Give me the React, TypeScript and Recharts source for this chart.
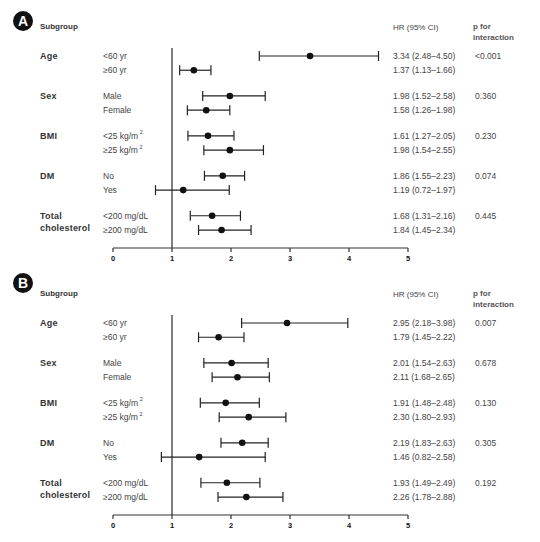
import { ScatterChart, Scatter, XAxis, YAxis, ErrorBar, ReferenceLine } from 'recharts';

const groups = ['Age', 'Sex', 'BMI', 'DM', 'Total cholesterol'];
const categories = ['<60 yr', '≥60 yr', 'Male', 'Female', '<25 kg/m²', '≥25 kg/m²', 'No', 'Yes', '<200 mg/dL', '≥200 mg/dL'];
const xTicks = [0, 1, 2, 3, 4, 5];

// panel A
const hrA = [3.34, 1.37, 1.98, 1.58, 1.61, 1.98, 1.86, 1.19, 1.68, 1.84];
const lowA = [2.48, 1.13, 1.52, 1.26, 1.27, 1.54, 1.55, 0.72, 1.31, 1.45];
const highA = [4.5, 1.66, 2.58, 1.98, 2.05, 2.55, 2.23, 1.97, 2.16, 2.34];
const pA = ['<0.001', '0.360', '0.230', '0.074', '0.445'];

// panel B
const hrB = [2.95, 1.79, 2.01, 2.11, 1.91, 2.3, 2.19, 1.46, 1.93, 2.26];
const lowB = [2.18, 1.45, 1.54, 1.68, 1.48, 1.8, 1.83, 0.82, 1.49, 1.78];
const highB = [3.98, 2.22, 2.63, 2.65, 2.48, 2.93, 2.63, 2.58, 2.49, 2.88];
const pB = ['0.007', '0.678', '0.130', '0.305', '0.192'];

const FONT = '"Liberation Sans", Arial, sans-serif';
const GROUP_STEP = 2.8;
const rowY = (i: number) => Math.floor(i / 2) * GROUP_STEP + (i % 2);

const fmt = (v: number) => v.toFixed(2);

function Category({ x, y, text }: { x: number; y: number; text: string }) {
  if (text.endsWith('²')) {
    return (
      <text x={x} y={y} dominantBaseline="central" fontSize={8.5} fill="#444" fontFamily={FONT}>
        {text.slice(0, -1)}
        <tspan dx={1.5} dy={-3.5} fontSize={5.5}>2</tspan>
      </text>
    );
  }
  return (
    <text x={x} y={y} dominantBaseline="central" fontSize={8.5} fill="#444" fontFamily={FONT}>
      {text}
    </text>
  );
}

const XTick = (props: any) => {
  const { x, y, payload } = props;
  return (
    <text x={x} y={y + 4} textAnchor="middle" dominantBaseline="central" fontSize={7.5} fontWeight="bold" fill="#111" stroke="none" fontFamily={FONT}>
      {payload.value}
    </text>
  );
};

function Panel({ letter, hr, low, high, p, top, badgeY }: {
  letter: string; hr: number[]; low: number[]; high: number[]; p: string[]; top: number; badgeY: number;
}) {
  const rows = categories.map((c, i) => ({
    y: rowY(i),
    hr: hr[i],
    err: [hr[i] - low[i], high[i] - hr[i]],
  }));
  const ticks = rows.map((r) => r.y);

  const RowTick = (props: any) => {
    const { y, payload } = props;
    const i = ticks.findIndex((t) => Math.abs(t - payload.value) < 1e-6);
    if (i < 0) return null;
    const g = Math.floor(i / 2);
    const lines = i % 2 === 0 ? groups[g].split(' ') : [];
    return (
      <g>
        {lines.map((ln, k) => (
          <text key={k} x={40} y={y + k * 12} dominantBaseline="central" fontSize={9} fontWeight="bold" fill="#333" fontFamily={FONT} letterSpacing={0.2}>
            {ln}
          </text>
        ))}
        <Category x={103} y={y} text={categories[i]} />
        <text x={393} y={y} dominantBaseline="central" fontSize={8.5} fill="#444" fontFamily={FONT}>
          {`${fmt(hr[i])} (${fmt(low[i])}–${fmt(high[i])})`}
        </text>
        {i % 2 === 0 && (
          <text x={475} y={y} dominantBaseline="central" fontSize={8.5} fill="#444" fontFamily={FONT}>
            {p[g]}
          </text>
        )}
      </g>
    );
  };

  return (
    <div style={{ position: 'absolute', left: 0, top, width: 540, height: 270 }}>
      <div
        style={{
          position: 'absolute', left: 13, top: badgeY - 10, width: 20, height: 20, borderRadius: 10,
          background: '#111', color: '#fff', fontFamily: FONT, fontWeight: 'bold', fontSize: 14,
          lineHeight: '20px', textAlign: 'center',
        }}
      >
        {letter}
      </div>
      <div style={{ position: 'absolute', left: 40, top: 22, fontFamily: FONT, fontWeight: 'bold', fontSize: 8, color: '#333', lineHeight: '10px' }}>
        Subgroup
      </div>
      <div style={{ position: 'absolute', left: 393, top: 23, fontFamily: FONT, fontSize: 8, color: '#444', lineHeight: '10px' }}>
        HR (95% CI)
      </div>
      <div style={{ position: 'absolute', left: 473, top: 21, fontFamily: FONT, fontWeight: 'bold', fontSize: 8, color: '#555', lineHeight: '11px' }}>
        p for<br />interaction
      </div>
      <ScatterChart width={540} height={270} margin={{ top: 48, right: 132, bottom: 0, left: 0 }}>
        <XAxis
          type="number"
          dataKey="hr"
          domain={[0, 5]}
          ticks={xTicks}
          allowDataOverflow
          height={22}
          axisLine={{ stroke: '#333', strokeWidth: 1.2 }}
          tickLine={{ stroke: '#333', strokeWidth: 1.2 }}
          tickSize={4}
          tick={XTick}
        />
        <YAxis
          type="number"
          dataKey="y"
          domain={[-0.56, 13.46]}
          reversed
          allowDataOverflow
          ticks={ticks}
          interval={0}
          width={113}
          axisLine={false}
          tickLine={false}
          tick={RowTick}
        />
        <ReferenceLine x={1} stroke="#555" strokeWidth={1.5} />
        <Scatter
          data={rows}
          isAnimationActive={false}
          shape={(s: any) => <circle cx={s.cx} cy={s.cy} r={3.3} fill="#111" />}
        >
          <ErrorBar dataKey="err" direction="x" width={5} stroke="#222" strokeWidth={1.2} />
        </Scatter>
      </ScatterChart>
    </div>
  );
}

export default function App() {
  return (
    <div style={{ position: 'absolute', left: 0, top: 0, width: 540, height: 542, background: '#fff' }}>
      <Panel letter="A" hr={hrA} low={lowA} high={highA} p={pA} top={0} badgeY={21} />
      <Panel letter="B" hr={hrB} low={lowB} high={highB} p={pB} top={267} badgeY={16} />
    </div>
  );
}
